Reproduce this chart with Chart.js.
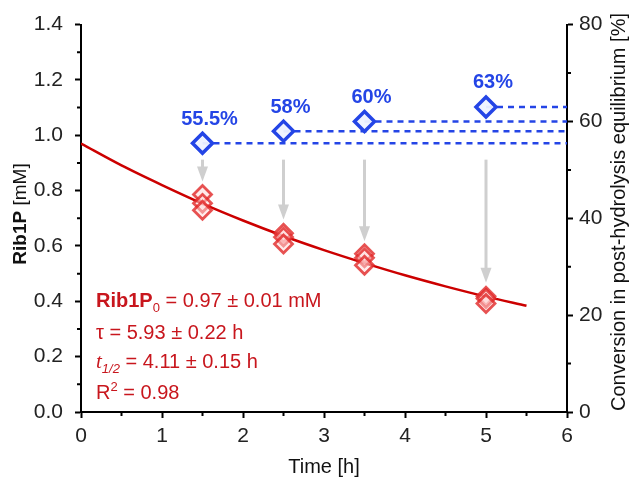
<!DOCTYPE html>
<html lang="en">
<head>
<meta charset="UTF-8" />
<title>Rib1P hydrolysis</title>
<script src="https://cdn.jsdelivr.net/npm/chart.js@4.4.0/dist/chart.umd.min.js"></script>
<style>
  body { margin: 0; background: #fff; overflow: hidden; }
  canvas { display: block; }
</style>
</head>
<body>
<canvas id="chart" width="629" height="477"></canvas>
<script>
  // measured Rib1P, triplicates [mM]
  let sampleTimes = [1.5, 1.5, 1.5, 2.5, 2.5, 2.5, 3.5, 3.5, 3.5, 5, 5, 5];
  let rib1p = [0.786, 0.754, 0.729, 0.646, 0.632, 0.607, 0.572, 0.557, 0.530, 0.418, 0.410, 0.392];

  // fitted decay curve
  let fitTimes = [0, 0.5, 1, 1.5, 2, 2.5, 3, 3.5, 4, 4.5, 5, 5.5];
  let fitRib1p = [0.970, 0.891, 0.820, 0.753, 0.692, 0.636, 0.585, 0.538, 0.494, 0.454, 0.417, 0.384];

  // conversion, right axis [%]
  let convTimes = [1.5, 2.5, 3.5, 5];
  let conversion = [55.5, 58, 60, 63];
  let convLabels = ['55.5%', '58%', '60%', '63%'];

  // grey arrows, in Rib1P units
  let arrowTop = [0.912, 0.912, 0.912, 0.912];
  let arrowTip = [0.833, 0.696, 0.617, 0.467];

  let xMinor = [0.5, 1.5, 2.5, 3.5, 4.5, 5.5];
  let yMinor = [0.1, 0.3, 0.5, 0.7, 0.9, 1.1, 1.3];
  let y2Minor = [10, 30, 50, 70];

  let fitText = ['0.97 ± 0.01 mM', '5.93 ± 0.22 h', '4.11 ± 0.15 h', '0.98'];

  const red = '#c8161d';
  const blue = '#2445e6';
  const font = '"Liberation Sans", Arial, sans-serif';

  const datasets = [];
  datasets.push({
    label: 'conversion',
    data: convTimes.map((t, i) => ({ x: t, y: conversion[i] })),
    yAxisID: 'y2',
    showLine: false,
    pointStyle: 'rectRot',
    pointRadius: 10,
    pointBorderWidth: 3.5,
    borderColor: blue,
    backgroundColor: 'rgba(238,242,255,0.95)',
    order: 0
  });
  datasets.push({
    label: 'Rib1P',
    data: sampleTimes.map((t, i) => ({ x: t, y: rib1p[i] })),
    yAxisID: 'y',
    showLine: false,
    pointStyle: 'rectRot',
    pointRadius: 9,
    pointBorderWidth: 2.8,
    borderColor: 'rgba(225,40,40,0.8)',
    backgroundColor: 'rgba(255,215,215,0.5)',
    order: 1
  });
  datasets.push({
    label: 'fit',
    data: fitTimes.map((t, i) => ({ x: t, y: fitRib1p[i] })),
    yAxisID: 'y',
    showLine: true,
    borderColor: '#cc0000',
    borderWidth: 2.5,
    pointRadius: 0,
    cubicInterpolationMode: 'monotone',
    order: 2
  });
  convTimes.forEach((t, i) => {
    datasets.push({
      label: 'level' + i,
      data: [{ x: t, y: conversion[i] }, { x: 6, y: conversion[i] }],
      yAxisID: 'y2',
      showLine: true,
      borderColor: blue,
      borderWidth: 2.5,
      borderDash: [6, 5],
      pointRadius: 0,
      order: 3
    });
  });

  const extras = {
    id: 'extras',
    beforeDatasetsDraw(chart) {
      const ctx = chart.ctx, sx = chart.scales.x, sy = chart.scales.y;
      ctx.save();
      ctx.strokeStyle = '#cfcfcf';
      ctx.fillStyle = '#cfcfcf';
      ctx.lineWidth = 3;
      convTimes.forEach((t, i) => {
        const x = sx.getPixelForValue(t);
        const y0 = sy.getPixelForValue(arrowTop[i]);
        const y1 = sy.getPixelForValue(arrowTip[i]);
        ctx.beginPath();
        ctx.moveTo(x, y0);
        ctx.lineTo(x, y1 - 12);
        ctx.stroke();
        ctx.beginPath();
        ctx.moveTo(x - 5.5, y1 - 15);
        ctx.lineTo(x + 5.5, y1 - 15);
        ctx.lineTo(x, y1);
        ctx.closePath();
        ctx.fill();
      });
      ctx.restore();
    },
    afterDraw(chart) {
      const ctx = chart.ctx, sx = chart.scales.x, sy = chart.scales.y, sy2 = chart.scales.y2;
      const a = chart.chartArea;
      ctx.save();

      // minor ticks
      ctx.strokeStyle = '#000';
      ctx.lineWidth = 2;
      ctx.beginPath();
      xMinor.forEach(v => {
        const x = sx.getPixelForValue(v);
        ctx.moveTo(x, a.bottom); ctx.lineTo(x, a.bottom + 4);
      });
      yMinor.forEach(v => {
        const y = sy.getPixelForValue(v);
        ctx.moveTo(a.left, y); ctx.lineTo(a.left - 4, y);
      });
      y2Minor.forEach(v => {
        const y = sy2.getPixelForValue(v);
        ctx.moveTo(a.right, y); ctx.lineTo(a.right + 4, y);
      });
      ctx.stroke();

      // percent labels
      ctx.fillStyle = blue;
      ctx.font = 'bold 20px ' + font;
      ctx.textAlign = 'center';
      ctx.textBaseline = 'middle';
      convTimes.forEach((t, i) => {
        ctx.fillText(convLabels[i], sx.getPixelForValue(t) + 7, sy2.getPixelForValue(conversion[i]) - 24);
      });

      // axis titles
      ctx.fillStyle = '#111';
      ctx.textBaseline = 'middle';
      ctx.font = '20px ' + font;
      ctx.fillText('Time [h]', (a.left + a.right) / 2, 467);

      ctx.save();
      ctx.translate(21, 214);
      ctx.rotate(-Math.PI / 2);
      ctx.font = 'bold 19px ' + font;
      const w1 = ctx.measureText('Rib1P').width;
      ctx.font = '19px ' + font;
      const w2 = ctx.measureText(' [mM]').width;
      ctx.textAlign = 'left';
      ctx.font = 'bold 19px ' + font;
      ctx.fillText('Rib1P', -(w1 + w2) / 2, 0);
      ctx.font = '19px ' + font;
      ctx.fillText(' [mM]', -(w1 + w2) / 2 + w1, 0);
      ctx.restore();

      ctx.save();
      ctx.translate(619, 212);
      ctx.rotate(-Math.PI / 2);
      ctx.textAlign = 'center';
      ctx.font = '20px ' + font;
      ctx.fillText('Conversion in post-hydrolysis equilibrium [%]', 0, 0);
      ctx.restore();

      // fit parameters
      ctx.fillStyle = red;
      ctx.textAlign = 'left';
      ctx.textBaseline = 'alphabetic';
      let x = 96;
      let base = 307;
      const put = (txt, f, dy) => {
        ctx.font = f;
        ctx.fillText(txt, x, base + (dy || 0));
        x += ctx.measureText(txt).width;
      };
      put('Rib1P', 'bold 20px ' + font);
      put('0', '13px ' + font, 5);
      put(' = ' + fitText[0], '20px ' + font);

      x = 96; base = 339;
      put('τ = ' + fitText[1], '20px ' + font);

      x = 96; base = 368;
      put('t', 'italic 21px "Liberation Serif", serif');
      put('1/2', 'italic 13px ' + font, 5);
      put(' = ' + fitText[2], '20px ' + font);

      x = 96; base = 399;
      put('R', '20px ' + font);
      put('2', '13px ' + font, -8);
      put(' = ' + fitText[3], '20px ' + font);

      ctx.restore();
    }
  };

  const tickFont = { family: font, size: 21 };
  const axisGrid = { display: true, drawOnChartArea: false, drawTicks: true, tickLength: 6, tickWidth: 2, tickColor: '#000' };
  const axisBorder = { display: true, color: '#000', width: 2 };

  new Chart(document.getElementById('chart'), {
    type: 'scatter',
    data: { datasets },
    options: {
      responsive: false,
      devicePixelRatio: 1,
      animation: false,
      layout: { padding: { top: 22, left: 0, right: 0, bottom: 0 } },
      plugins: { legend: { display: false }, tooltip: { enabled: false } },
      scales: {
        x: {
          type: 'linear', min: 0, max: 6,
          ticks: { stepSize: 1, font: tickFont, color: '#222', padding: 6 },
          grid: axisGrid, border: axisBorder,
          afterFit: s => { s.height = 65; }
        },
        y: {
          type: 'linear', position: 'left', min: 0, max: 1.4,
          ticks: { stepSize: 0.2, font: tickFont, color: '#222', padding: 12, callback: v => v.toFixed(1) },
          grid: axisGrid, border: axisBorder,
          afterFit: s => { s.width = 81; }
        },
        y2: {
          type: 'linear', position: 'right', min: 0, max: 80,
          ticks: { stepSize: 20, font: tickFont, color: '#222', padding: 6 },
          grid: axisGrid, border: axisBorder,
          afterFit: s => { s.width = 62; }
        }
      }
    },
    plugins: [extras]
  });
</script>
</body>
</html>
